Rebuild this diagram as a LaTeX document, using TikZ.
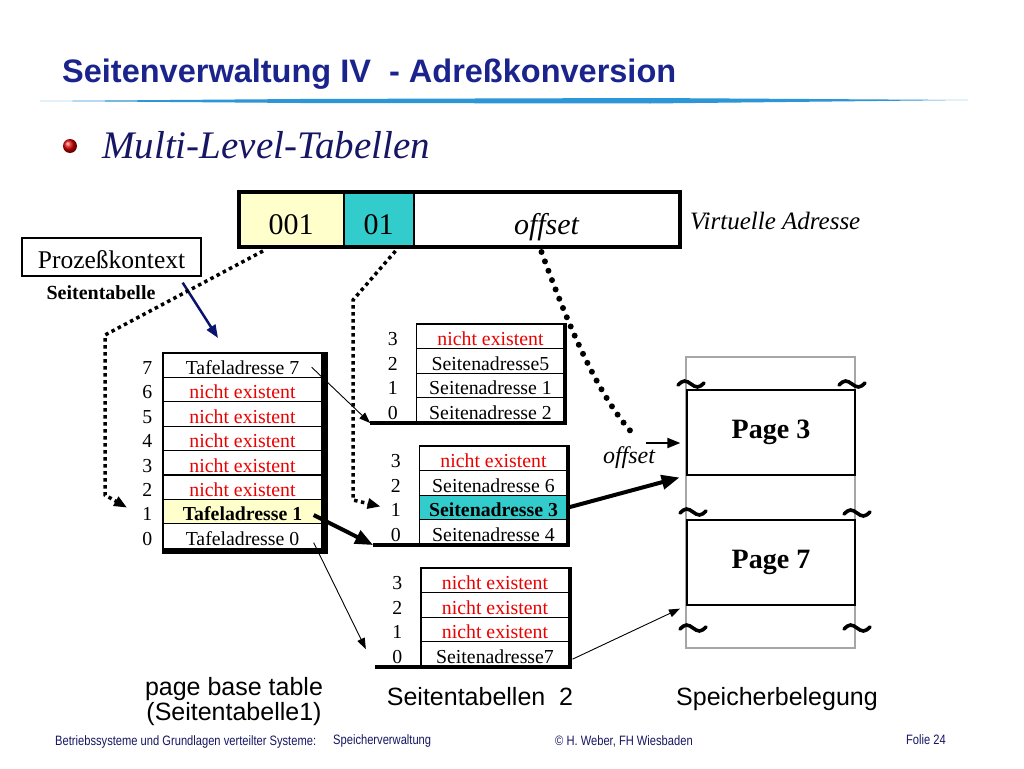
\documentclass[tikz,border=0pt]{standalone}
\usepackage{fontspec}
\setmainfont{Liberation Serif}
\setsansfont{Liberation Sans}
\newfontfamily\footfont[FakeStretch=0.82]{Liberation Sans}
\usetikzlibrary{positioning,arrows.meta}

\definecolor{titleblue}{RGB}{26,36,140}
\definecolor{subblue}{RGB}{22,22,100}
\definecolor{arrowblue}{RGB}{10,20,110}
\definecolor{cellyellow}{RGB}{255,255,204}
\definecolor{cellteal}{RGB}{51,204,204}
\definecolor{brushblue}{RGB}{45,150,215}
\definecolor{nixred}{RGB}{235,0,0}

\tikzset{
  adr/.style={draw, line width=2pt, outer sep=0pt, inner sep=0pt, minimum height=55pt, text height=30pt, text depth=1pt, font=\fontsize{30}{32}\selectfont},
  cell/.style={draw, line width=1.3pt, inner sep=0pt, minimum height=24.4pt, text height=19.5pt, text depth=1pt, font=\fontsize{19.8}{21}\selectfont},
  cellplain/.style={},
  cellred/.style={text=nixred},
  cellhl/.style={fill=cellyellow, font=\fontsize{19.8}{21}\selectfont\bfseries},
  cellsel/.style={fill=cellteal, font=\fontsize{19.8}{21}\selectfont\bfseries},
  idx/.style={inner sep=0pt, text height=19.5pt, text depth=1pt, font=\fontsize{19.8}{21}\selectfont},
  tabline/.style={line width=4pt},
  thinarr/.style={line width=0.9pt, -{Triangle[length=11pt,width=8pt]}},
  thickarr/.style={line width=4pt, -{Triangle[length=18pt,width=14pt]}},
  dotarr/.style={line width=3.5pt, dash pattern=on 3.5pt off 3.5pt, -{Triangle[length=13pt,width=10pt]}},
  bigdots/.style={line width=6pt, line cap=round, dash pattern=on 0pt off 10pt},
  tilde/.style={line width=3.6pt, line cap=round},
  lbl/.style={font=\sffamily\fontsize{25}{27}\selectfont},
  foot/.style={text=subblue, inner sep=0pt, font=\footfont\fontsize{13.6}{15}\selectfont}
}

\begin{document}
\begin{tikzpicture}[x=1pt,y=-1pt]
  \fill[white] (0,0) rectangle (1024,768);
  \useasboundingbox (0,0) rectangle (1024,768);

  \node[anchor=base west, inner sep=0pt, text=titleblue, font=\sffamily\bfseries\fontsize{32.5}{34}\selectfont] (title) at (62,82) {Seitenverwaltung IV~~- Adreßkonversion};
  \fill[brushblue] (40,101) -- (300,99) -- (650,98) -- (968,100) -- (650,103.5) -- (300,103) -- cycle;
  \shade[ball color=red!85!black] (70,146) circle (7pt);
  \node[anchor=base west, inner sep=0pt, text=subblue, font=\itshape\fontsize{39}{41}\selectfont] (sub) at (102,158) {Multi-Level-Tabellen};

  \node[adr, fill=cellyellow, minimum width=105pt] (va1) at (291,219.5) {001};
  \node[adr, fill=cellteal, minimum width=70pt, right=0pt of va1] (va2) {01};
  \node[adr, minimum width=266pt, right=0pt of va2, font=\fontsize{30}{32}\selectfont\itshape] (va3) {offset};
  \draw[line width=4pt] (va1.north west) rectangle (va3.south east);
  \node[anchor=base west, inner sep=0pt, font=\fontsize{25}{27}\selectfont\itshape] (vlbl) at (690,229) {Virtuelle Adresse};

  \node[draw, line width=1.3pt, minimum width=179pt, minimum height=38pt, inner sep=0pt, text height=23pt, text depth=1pt, font=\fontsize{25.5}{27}\selectfont] (pk) at (111.5,257) {Prozeßkontext};
  \node[font=\fontsize{20}{22}\selectfont\bfseries] (st) at (101,293) {Seitentabelle};
  \coordinate (pbtop) at (218,338);

  \foreach \i/\s/\t in {7/cellplain/Tafeladresse 7, 6/cellred/nicht existent, 5/cellred/nicht existent, 4/cellred/nicht existent, 3/cellred/nicht existent, 2/cellred/nicht existent, 1/cellhl/Tafeladresse 1, 0/cellplain/Tafeladresse 0}{
    \node[cell, \s, minimum width=159pt] (pt\i) at (242.5,{365.2+(7-\i)*24.4}) {\t};
    \node[idx, left=10pt of pt\i] (pti\i) {\i};
  }
  \draw[line width=5pt] ([xshift=2.5pt]pt7.north east) |- ([yshift=-2.5pt]pt0.south west);

  \foreach \tname/\top/\cx/\i/\s/\t in {sa/324/490.5/3/cellred/nicht existent, sa/324/490.5/2/cellplain/Seitenadresse5, sa/324/490.5/1/cellplain/Seitenadresse 1, sa/324/490.5/0/cellplain/Seitenadresse 2,
      sb/446/493.5/3/cellred/nicht existent, sb/446/493.5/2/cellplain/Seitenadresse 6, sb/446/493.5/1/cellsel/Seitenadresse 3, sb/446/493.5/0/cellplain/Seitenadresse 4,
      sc/568/495/3/cellred/nicht existent, sc/568/495/2/cellred/nicht existent, sc/568/495/1/cellred/nicht existent, sc/568/495/0/cellplain/Seitenadresse7}{
    \node[cell, \s, minimum width=148pt, minimum height=24.6pt] (\tname\i) at (\cx,{\top+(3-\i)*24.6+12.3}) {\t};
    \node[idx, left=18pt of \tname\i] (\tname i\i) {\i};
  }
  \foreach \tname in {sa,sb,sc}
    \draw[tabline] (\tname3.north east) -- (\tname0.south east) -- ++(-195,0) coordinate (\tname bl);

  \draw[gray!70, line width=1.2pt] (686,357) rectangle (855,648);
  \node[draw, line width=1.3pt, minimum width=168pt, minimum height=85pt, font=\fontsize{28}{30}\selectfont\bfseries] (pg3) at (771,432.5) {Page 3};
  \node[draw, line width=1.3pt, minimum width=168pt, minimum height=85pt, font=\fontsize{28}{30}\selectfont\bfseries] (pg7) at (771,562.5) {Page 7};
  \foreach \x/\y in {691/384, 852/384, 693/512, 857/513, 693/628, 857/628}
    \draw[tilde] (\x-13,\y+1) sin (\x-6.5,\y-3) cos (\x,\y) sin (\x+6.5,\y+3) cos (\x+13,\y-1);

  \draw[arrowblue, line width=2.5pt, -{Triangle[length=13pt,width=10pt]}] ([xshift=-19pt,yshift=-6pt]pk.south east) -- (pbtop);
  \draw[dotarr] ([xshift=-28pt,yshift=-4pt]va1.south) -- (105,335) -- (105,495) -- ([xshift=-15pt,yshift=4pt]pti1.west);
  \draw[dotarr] ([xshift=17pt,yshift=-4pt]va2.south) -- (353,300) -- (353,500) -- ([xshift=-10pt,yshift=1pt]sbi1.west);
  \coordinate (offc) at (636,437);
  \draw[bigdots] ([xshift=-5pt,yshift=-5pt]va3.south) .. controls (570,330) and (600,400) .. (offc);
  \coordinate (offs) at (646,443);
  \draw[line width=2pt, -{Triangle[length=13pt,width=10pt]}] (offs) -- ([xshift=-6pt,yshift=-10.5pt]pg3.west);
  \node[font=\fontsize{24}{26}\selectfont\itshape] (offlbl) at (629,458) {offset};

  \draw[thinarr] ([xshift=-11pt,yshift=-2pt]pt7.east) -- (sabl);
  \draw[thickarr] ([xshift=-9pt,yshift=-3.4pt]pt1.east) -- (sbbl);
  \draw[thinarr, shorten >=20pt] ([xshift=-9pt,yshift=-6.6pt]pt0.east) -- (scbl);
  \draw[thickarr, shorten >=7pt] (sb1.east) -- (pg3.south west);
  \draw[thinarr, shorten >=7pt] ([xshift=3pt,yshift=-5pt]sc0.east) -- (pg7.south west);

  \node[lbl, align=center] (l1) at (234,702) {page base table\\[-2pt](Seitentabelle1)};
  \node[lbl, anchor=base] (l2) at (480,705) {Seitentabellen~~2};
  \node[lbl, anchor=base] (l3) at (777,705) {Speicherbelegung};

  \node[foot, anchor=base west] (f1) at (55,745) {Betriebssysteme und Grundlagen verteilter Systeme:};
  \node[foot, anchor=base west] (f2) at (333,744) {Speicherverwaltung};
  \node[foot, anchor=base west] (f3) at (555,745) {© H. Weber, FH Wiesbaden};
  \node[foot, anchor=base east] (f4) at (946,744) {Folie 24};
\end{tikzpicture}
\end{document}
